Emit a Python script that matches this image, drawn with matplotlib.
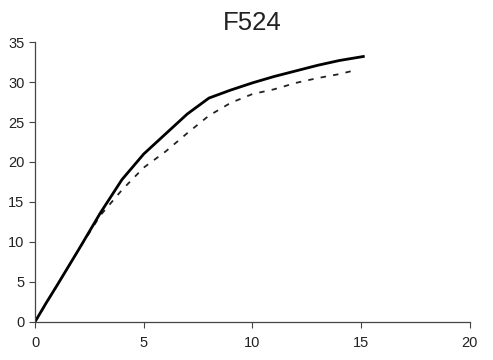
import matplotlib
matplotlib.use("Agg")
import matplotlib.pyplot as plt

title = "F524"
solid_x = [0, 0.5, 1, 2, 3, 4, 5, 6, 7, 8, 9, 10, 11, 12, 13, 14, 15.1]
solid_y = [0, 2.3, 4.5, 9.0, 13.6, 17.8, 21.0, 23.5, 26.0, 28.0, 29.0, 29.9, 30.7, 31.4, 32.1, 32.7, 33.2]
dash_x = [0, 1, 2, 3, 4, 5, 6, 7, 8, 9, 10, 11, 12, 13, 14, 14.6]
dash_y = [0, 4.5, 9.0, 13.3, 16.5, 19.3, 21.3, 23.6, 25.8, 27.4, 28.5, 29.1, 29.9, 30.5, 31.0, 31.4]
xticks = [0, 5, 10, 15, 20]
yticks = [0, 5, 10, 15, 20, 25, 30, 35]

plt.rcParams['font.family'] = ['Liberation Sans', 'DejaVu Sans']
fig = plt.figure(figsize=(4.93, 3.6), dpi=100)
ax = fig.add_axes([0.071, 0.106, 0.882, 0.777])
ax.plot(dash_x, dash_y, color='#222222', lw=1.3, dashes=(3, 4))
ax.plot(solid_x, solid_y, color='black', lw=2.0)
ax.set_xlim(0, 20)
ax.set_ylim(0, 35)
ax.set_xticks(xticks)
ax.set_yticks(yticks)
for s in ['top', 'right']:
    ax.spines[s].set_visible(False)
for s in ['left', 'bottom']:
    ax.spines[s].set_color('#444444')
    ax.spines[s].set_linewidth(0.9)
ax.tick_params(axis='both', length=4, width=0.8, color='#444444', labelsize=10.5, labelcolor='#222222')
ax.tick_params(axis='x', pad=6)
ax.set_title(title, fontsize=18.5, pad=9, color='#222222')
fig.savefig('out.png', dpi=100)
